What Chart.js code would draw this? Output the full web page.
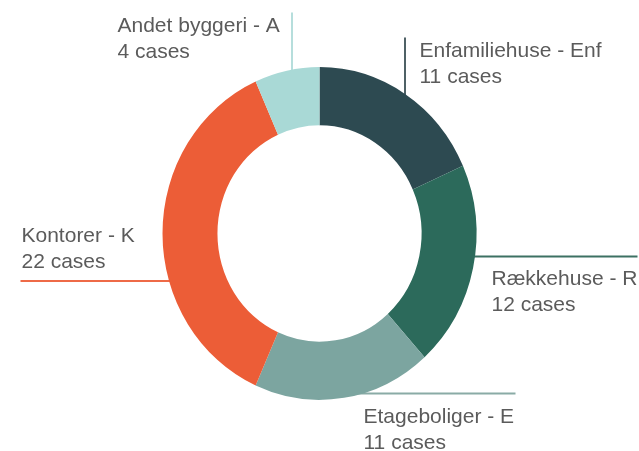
<!DOCTYPE html>
<html>
<head>
<meta charset="utf-8">
<script src="https://cdn.jsdelivr.net/npm/chart.js@4/dist/chart.umd.min.js"></script>
<style>
  html, body { margin: 0; padding: 0; background: #fff; }
  #wrap { width: 639px; height: 451px; position: relative; }
</style>
</head>
<body>
<div id="wrap"><canvas id="donut"></canvas></div>
<script>
// data, clockwise from 12 o'clock
const categories = ['Enfamiliehuse - Enf', 'Rækkehuse - R', 'Etageboliger - E', 'Kontorer - K', 'Andet byggeri - A'];
const cases = [11, 12, 11, 22, 4];
const colours = ['#2d4a51', '#2c6a5b', '#7ca5a0', '#ec5d37', '#a9d9d6'];
const lineColours = ['#4f6166', '#3c7163', '#8aaba6', '#ee6a47', '#b6dedc'];

// where each label and its leader line sit, relative to the ring centre
// t = text left/baseline, l = line from (x1,y1) to (x2,y2)
const callouts = [
  { t: [100, -177], l: [85.5, -196, 85.5, -120] },
  { t: [172, 51], l: [120, 23, 318, 23] },
  { t: [44, 189], l: [10, 160, 196, 160] },
  { t: [-298, 8], l: [-299, 47.5, -120, 47.5] },
  { t: [-202, -202], l: [-27.5, -221, -27.5, -140] }
];
const stretch = 1.06; // the ring in the picture is a little taller than wide

const ringPlugin = {
  id: 'ring',
  beforeDatasetsDraw(chart) {
    const ctx = chart.ctx;
    const a = chart.getDatasetMeta(0).data[0];
    ctx.save();
    ctx.lineWidth = 2;
    callouts.forEach((c, i) => {
      ctx.strokeStyle = lineColours[i];
      ctx.beginPath();
      ctx.moveTo(a.x + c.l[0], a.y + c.l[1]);
      ctx.lineTo(a.x + c.l[2], a.y + c.l[3]);
      ctx.stroke();
    });
    ctx.restore();
    ctx.save();
    ctx.translate(a.x, a.y);
    ctx.scale(1, stretch);
    ctx.translate(-a.x, -a.y);
  },
  afterDatasetsDraw(chart) {
    const ctx = chart.ctx;
    ctx.restore();
    const a = chart.getDatasetMeta(0).data[0];
    ctx.save();
    ctx.font = '21px "Liberation Sans", Arial, sans-serif';
    ctx.fillStyle = '#5b5b5b';
    ctx.textAlign = 'left';
    ctx.textBaseline = 'alphabetic';
    callouts.forEach((c, i) => {
      ctx.fillText(categories[i], a.x + c.t[0], a.y + c.t[1]);
      ctx.fillText(cases[i] + ' cases', a.x + c.t[0], a.y + c.t[1] + 26);
    });
    ctx.restore();
  }
};

new Chart(document.getElementById('donut'), {
  type: 'doughnut',
  data: {
    labels: categories,
    datasets: [{
      data: cases,
      backgroundColor: colours,
      borderWidth: 0,
      clip: false
    }]
  },
  options: {
    responsive: true,
    maintainAspectRatio: false,
    animation: false,
    cutout: '65%',
    layout: { padding: { top: 76.5, bottom: 60.5, left: 0, right: 0 } },
    plugins: {
      legend: { display: false },
      tooltip: { enabled: false }
    },
    events: []
  },
  plugins: [ringPlugin]
});
</script>
</body>
</html>
